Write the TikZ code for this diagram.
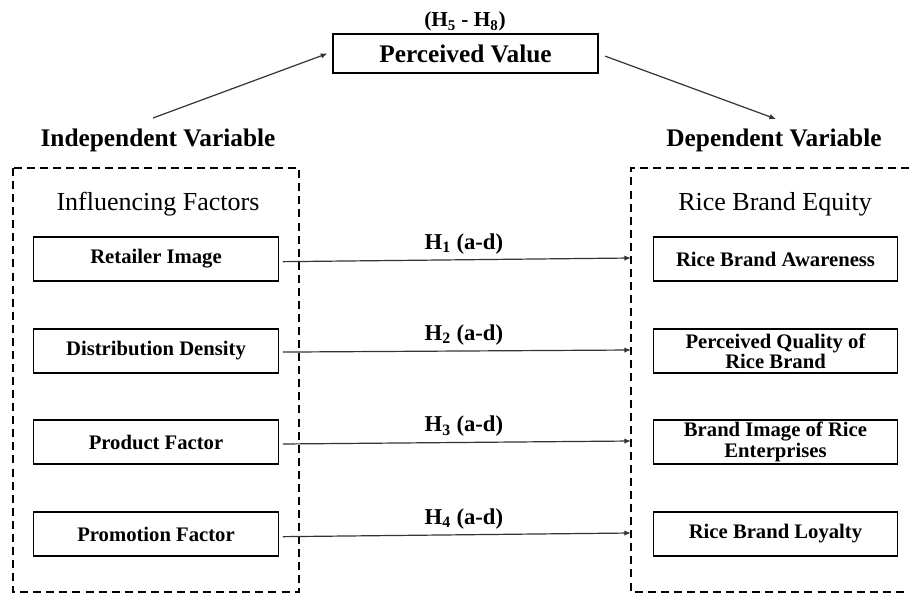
\documentclass[tikz,border=0pt]{standalone}
\usepackage{fontspec}
\setmainfont{Liberation Serif}
\usetikzlibrary{arrows.meta}

\begin{document}
\begin{tikzpicture}[
  x=0.75pt,
  y=-0.75pt,
  factor/.style={draw=black, line width=0.8pt, minimum width=183.5pt, minimum height=33pt, inner sep=1pt, align=center, font=\bfseries\fontsize{15.5}{14}\selectfont},
  heading/.style={anchor=base, font=\bfseries\fontsize{19}{22}\selectfont},
  group/.style={anchor=base, font=\fontsize{19.5}{22}\selectfont},
  hyp/.style={text=black, inner sep=1pt, font=\bfseries\fontsize{17}{20}\selectfont},
  frame/.style={black, line width=1.8pt, dash pattern=on 6pt off 3.8pt},
  link/.style={black!80, line width=0.9pt, -{Latex[length=5pt, width=4pt]}}
]
\useasboundingbox (0,0) rectangle (909,595);

% mediator
\node[factor, minimum width=198.75pt, minimum height=29.25pt, font=\bfseries\fontsize{19}{22}\selectfont] (pv) at (465.5,53.5) {Perceived Value};
\node[anchor=base, font=\bfseries\fontsize{16}{18}\selectfont] (pvhyp) at (465,27) {(H\textsubscript{5} - H\textsubscript{8})};

\node[heading] (iv) at (158,147) {Independent Variable};
\node[heading] (dv) at (774,147) {Dependent Variable};

% dashed groups
\draw[frame] (13,168) rectangle (299,592);
\draw[frame] (909,168) -- (631,168) -- (631,592) -- (909,592);

\node[group] (inf) at (158,210) {Influencing Factors};
\node[group] (rbe) at (775,210) {Rice Brand Equity};

\node[factor] (ri) at (156,259) {Retailer Image};
\node[factor] (dd) at (156,351) {Distribution Density};
\node[factor] (pf) at (156,442) {Product Factor};
\node[factor] (pmf) at (156,534) {Promotion Factor};

\node[factor] (aw) at (775.5,259) {Rice Brand Awareness};
\node[factor] (pq) at (775.5,351) {Perceived Quality of\\Rice Brand};
\node[factor] (bi) at (775.5,442) {Brand Image of Rice\\Enterprises};
\node[factor] (lo) at (775.5,534) {Rice Brand Loyalty};

\coordinate (e1) at (631,258);
\coordinate (e2) at (631,350);
\coordinate (e3) at (631,441);
\coordinate (e4) at (631,533);
\coordinate (ivtop) at (153,118);
\coordinate (dvtop) at (776,119);

\draw[link] ([xshift=3pt, yshift=-2pt]ri.east) -- node[hyp, above=3pt, pos=0.52] {H\textsubscript{1} (a-d)} (e1);
\draw[link] ([xshift=3pt, yshift=-0.8pt]dd.east) -- node[hyp, above=3pt, pos=0.52] {H\textsubscript{2} (a-d)} (e2);
\draw[link] ([xshift=3pt, yshift=-1.5pt]pf.east) -- node[hyp, above=3pt, pos=0.52] {H\textsubscript{3} (a-d)} (e3);
\draw[link] ([xshift=3pt, yshift=-2pt]pmf.east) -- node[hyp, above=3pt, pos=0.52] {H\textsubscript{4} (a-d)} (e4);

\draw[link] (ivtop) -- ([xshift=-3.75pt]pv.west);
\draw[link] ([xshift=5pt, yshift=-2pt]pv.east) -- (dvtop);
\end{tikzpicture}
\end{document}
